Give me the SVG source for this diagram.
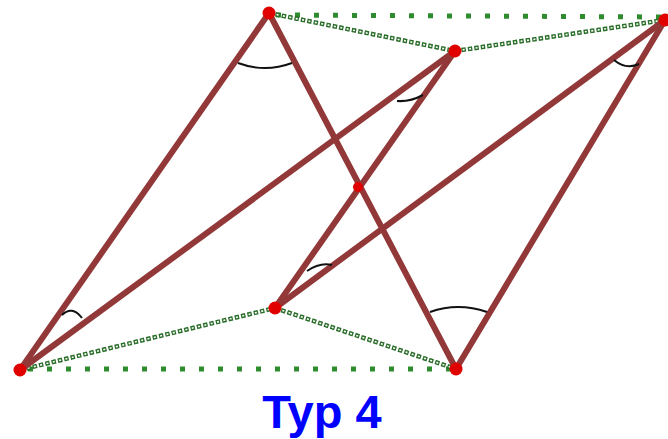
<svg xmlns="http://www.w3.org/2000/svg" width="668" height="439" viewBox="0 0 668 439">
<style>
.sq{stroke:#2e8b2e;stroke-width:5;stroke-dasharray:5 14;fill:none}
.ring{stroke:#2a6e2a;stroke-width:4.5;stroke-dasharray:4.5 2;fill:none}
.ringin{stroke:#ffffff;stroke-width:1.6;stroke-dasharray:2 4.5;stroke-dashoffset:-1.25;fill:none}
.bar{stroke:#933838;stroke-width:6;stroke-linecap:round;fill:none}
.arc{stroke:#111;stroke-width:2;fill:none}
.pt{fill:#e00000}
.lbl{font-family:"Liberation Sans",Arial,sans-serif;font-weight:bold;font-size:47px;fill:#0000ff}
</style>
<rect width="668" height="439" fill="#ffffff"/>
<g id="connectors">
<line class="sq" x1="276" y1="15" x2="664" y2="17"/>
<line class="sq" x1="28" y1="369" x2="456" y2="369"/>
<g id="ring-lines">
<line class="ring" x1="269" y1="13" x2="455" y2="51"/>
<line class="ring" x1="455" y1="51" x2="665" y2="20"/>
<line class="ring" x1="20" y1="370" x2="275" y2="308"/>
<line class="ring" x1="275" y1="308" x2="456" y2="369"/>
<line class="ringin" x1="269" y1="13" x2="455" y2="51"/>
<line class="ringin" x1="455" y1="51" x2="665" y2="20"/>
<line class="ringin" x1="20" y1="370" x2="275" y2="308"/>
<line class="ringin" x1="275" y1="308" x2="456" y2="369"/>
</g>
<line class="bar" x1="269" y1="13" x2="20" y2="370"/>
<line class="bar" x1="269" y1="13" x2="456" y2="369"/>
<line class="bar" x1="455" y1="51" x2="20" y2="370"/>
<line class="bar" x1="455" y1="51" x2="275" y2="308"/>
<line class="bar" x1="665" y1="20" x2="275" y2="308"/>
<line class="bar" x1="665" y1="20" x2="456" y2="369"/>
<path class="arc" d="M238,63 Q265,73 292,63"/>
<path class="arc" d="M397,101 Q410,102 423,95"/>
<path class="arc" d="M614,60 Q626,70 639,64"/>
<path class="arc" d="M307,271 Q320,262 332,265"/>
<path class="arc" d="M62,315 Q72,305 82,318"/>
<path class="arc" d="M430,312 Q458,302 487,312"/>
</g>
<g id="node-A"><circle class="pt" cx="269" cy="13" r="6.5"/></g>
<g id="node-B"><circle class="pt" cx="455" cy="51" r="6.5"/></g>
<g id="node-C"><circle class="pt" cx="665" cy="20" r="6.5"/></g>
<g id="node-D"><circle class="pt" cx="358" cy="187" r="5"/></g>
<g id="node-E"><circle class="pt" cx="275" cy="308" r="6.5"/></g>
<g id="node-F"><circle class="pt" cx="20" cy="370" r="6.5"/></g>
<g id="node-G"><circle class="pt" cx="456" cy="369" r="6.5"/></g>
<text class="lbl" x="322" y="428" text-anchor="middle">Typ 4</text>
</svg>
